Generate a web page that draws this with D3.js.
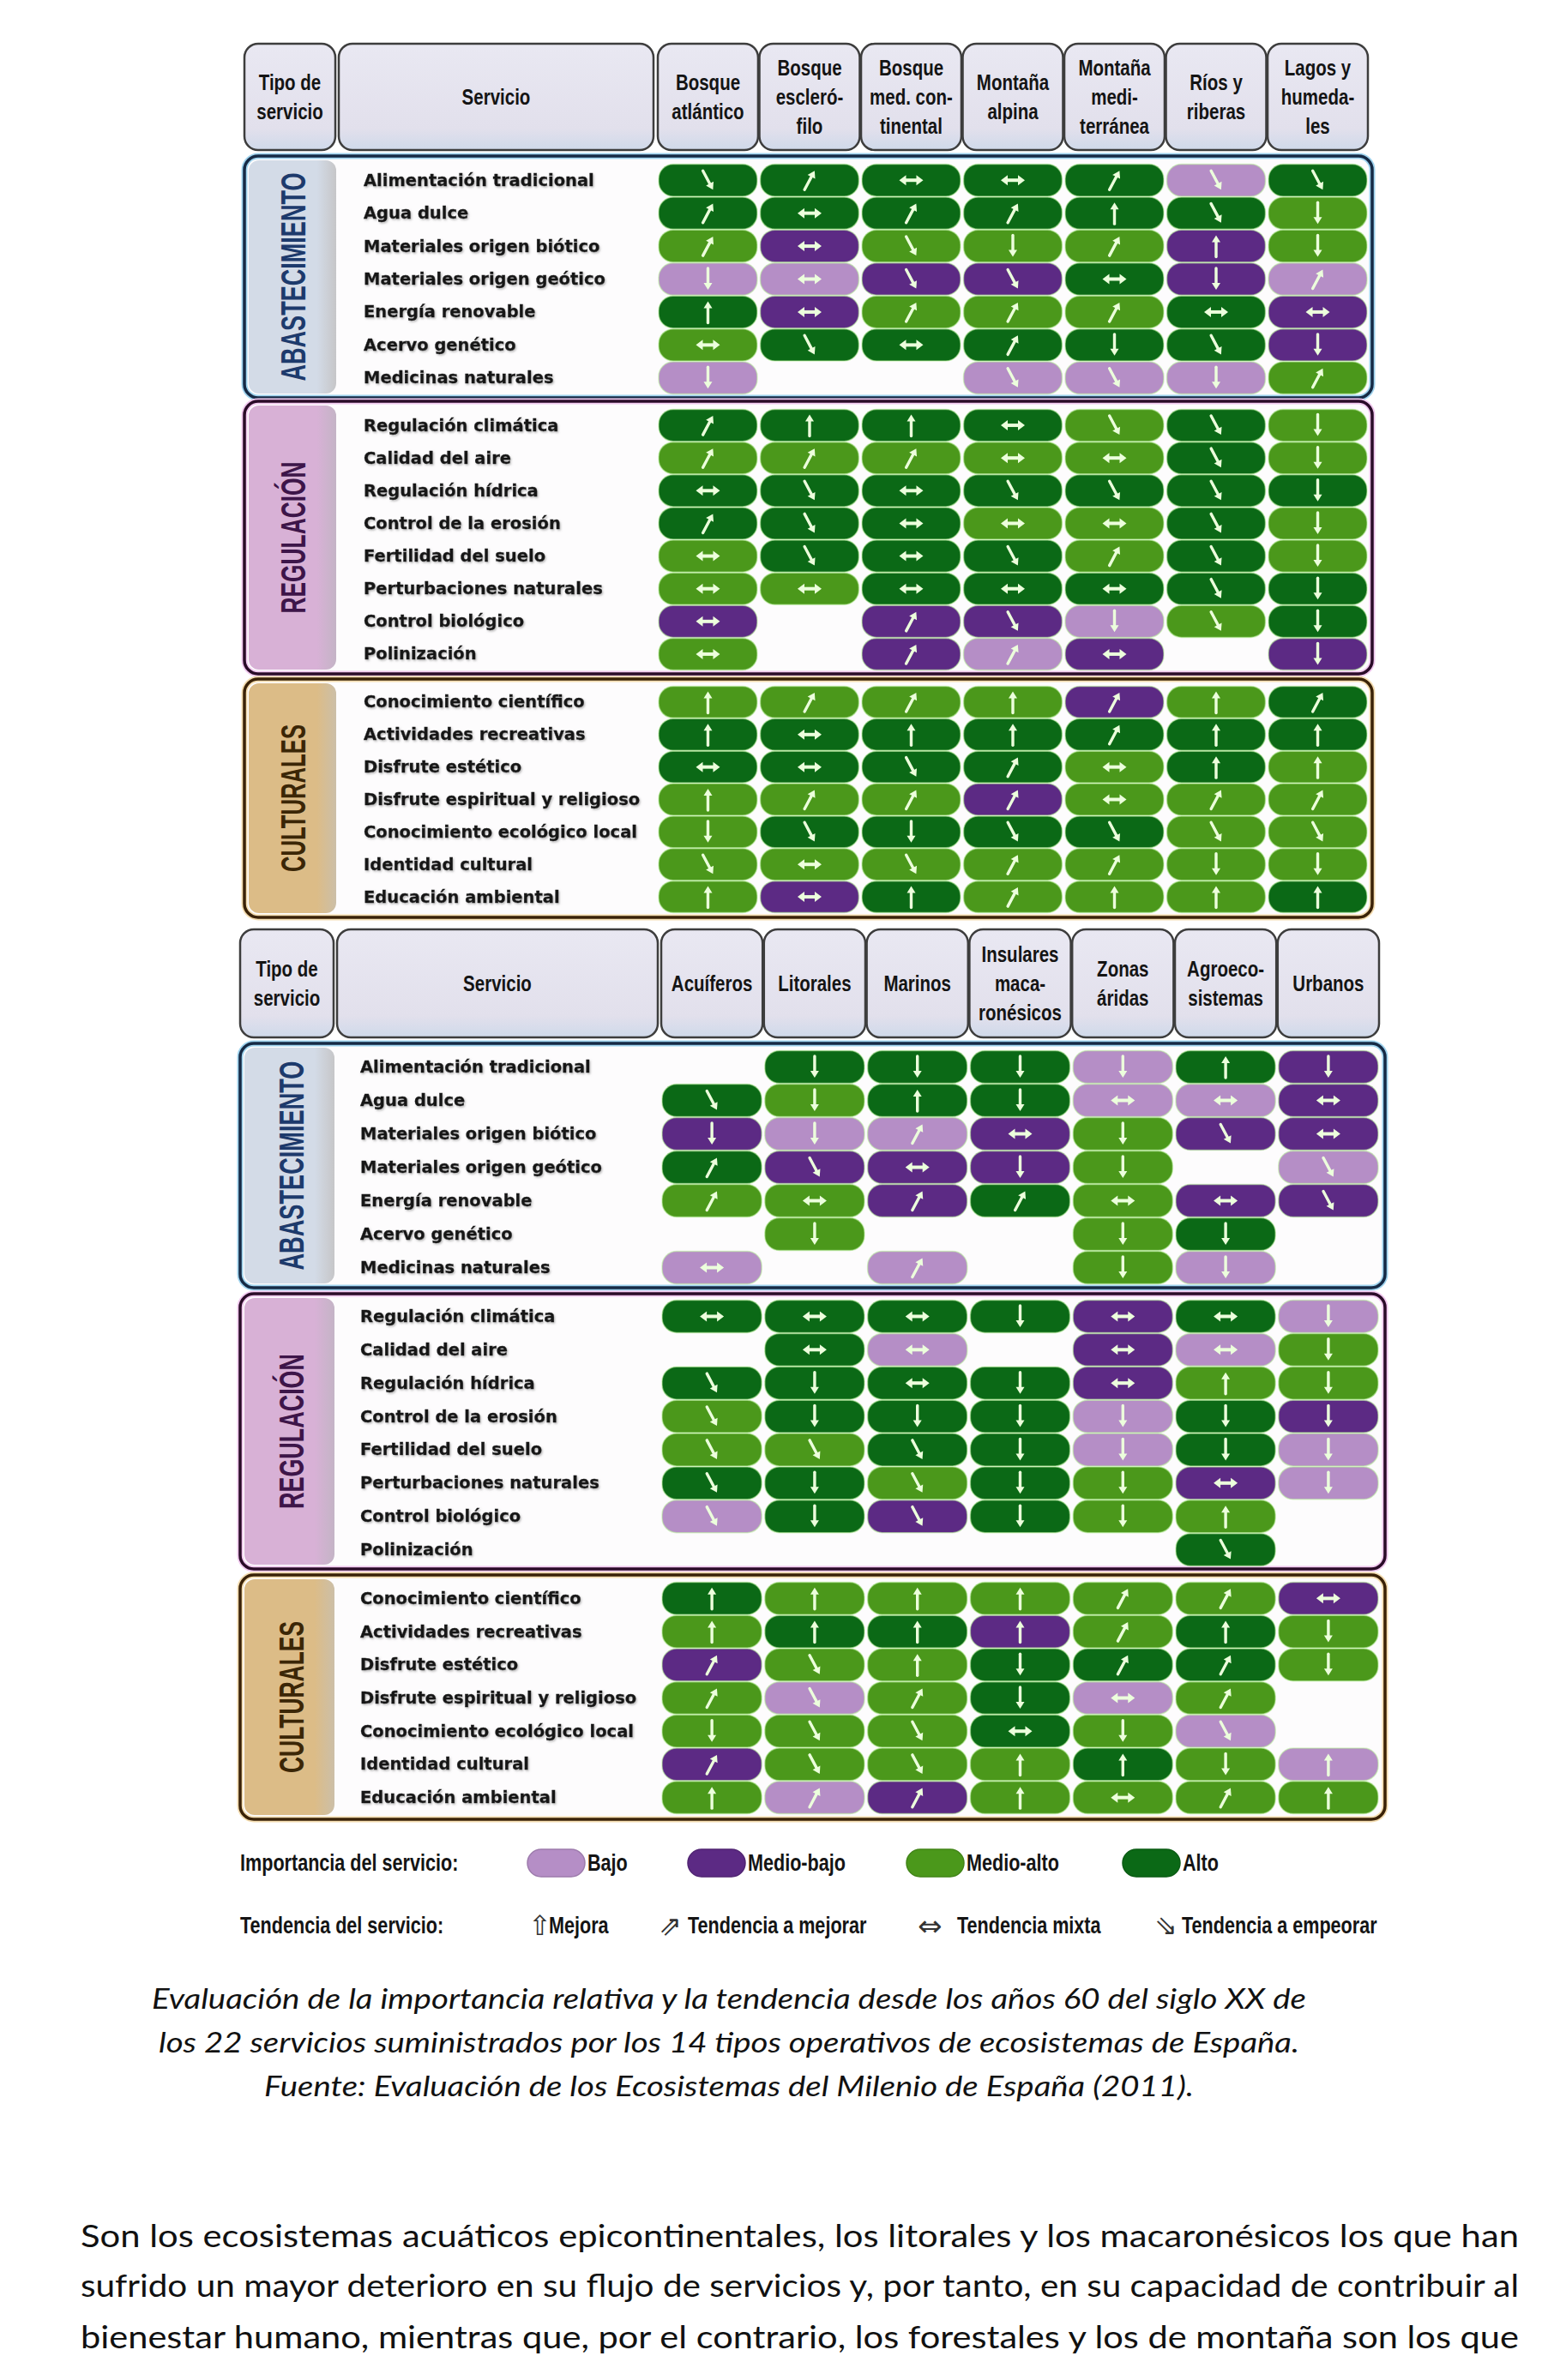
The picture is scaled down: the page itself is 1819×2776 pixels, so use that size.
<!DOCTYPE html>
<html><head><meta charset="utf-8">
<script src="https://cdn.jsdelivr.net/npm/d3@7"></script>
<style>body{margin:0;background:#ffffff;} svg{display:block}</style>
</head><body><svg id="c" width="1819" height="2776"></svg>
<script>
// ---------------- DATA ----------------
const topColumns = ["Bosque atlántico","Bosque esclerófilo","Bosque med. continental","Montaña alpina","Montaña mediterránea","Ríos y riberas","Lagos y humedales"];
const topHeaderLabels = [["Bosque","atlántico"],["Bosque","escleró-","filo"],["Bosque","med. con-","tinental"],["Montaña","alpina"],["Montaña","medi-","terránea"],["Ríos y","riberas"],["Lagos y","humeda-","les"]];
const bottomColumns = ["Acuíferos","Litorales","Marinos","Insulares macaronésicos","Zonas áridas","Agroecosistemas","Urbanos"];
const bottomHeaderLabels = [["Acuíferos"],["Litorales"],["Marinos"],["Insulares","maca-","ronésicos"],["Zonas","áridas"],["Agroeco-","sistemas"],["Urbanos"]];

const categories = ["ABASTECIMIENTO","REGULACIÓN","CULTURALES"];
const abastServices = ["Alimentación tradicional","Agua dulce","Materiales origen biótico","Materiales origen geótico","Energía renovable","Acervo genético","Medicinas naturales"];
const regServices = ["Regulación climática","Calidad del aire","Regulación hídrica","Control de la erosión","Fertilidad del suelo","Perturbaciones naturales","Control biológico","Polinización"];
const cultServices = ["Conocimiento científico","Actividades recreativas","Disfrute estético","Disfrute espiritual y religioso","Conocimiento ecológico local","Identidad cultural","Educación ambiental"];

// importance: B = Bajo, MB = Medio-bajo, MA = Medio-alto, A = Alto, "" = sin dato
// trend: U = Mejora, UR = Tendencia a mejorar, X = Tendencia mixta, DR = Tendencia a empeorar, D = Empeora
const topAbastImp = [
 ["A","A","A","A","A","B","A"],
 ["A","A","A","A","A","A","MA"],
 ["MA","MB","MA","MA","MA","MB","MA"],
 ["B","B","MB","MB","A","MB","B"],
 ["A","MB","MA","MA","MA","A","MB"],
 ["MA","A","A","A","A","A","MB"],
 ["B","","","B","B","B","MA"]];
const topAbastTrend = [
 ["DR","UR","X","X","UR","DR","DR"],
 ["UR","X","UR","UR","U","DR","D"],
 ["UR","X","DR","D","UR","U","D"],
 ["D","X","DR","DR","X","D","UR"],
 ["U","X","UR","UR","UR","X","X"],
 ["X","DR","X","UR","D","DR","D"],
 ["D","","","DR","DR","D","UR"]];
const topRegImp = [
 ["A","A","A","A","MA","A","MA"],
 ["MA","MA","MA","MA","MA","A","MA"],
 ["A","A","A","A","A","A","A"],
 ["A","A","A","MA","MA","A","MA"],
 ["MA","A","A","A","MA","A","MA"],
 ["MA","MA","A","A","A","A","A"],
 ["MB","","MB","MB","B","MA","A"],
 ["MA","","MB","B","MB","","MB"]];
const topRegTrend = [
 ["UR","U","U","X","DR","DR","D"],
 ["UR","UR","UR","X","X","DR","D"],
 ["X","DR","X","DR","DR","DR","D"],
 ["UR","DR","X","X","X","DR","D"],
 ["X","DR","X","DR","UR","DR","D"],
 ["X","X","X","X","X","DR","D"],
 ["X","","UR","DR","D","DR","D"],
 ["X","","UR","UR","X","","D"]];
const topCultImp = [
 ["MA","MA","MA","MA","MB","MA","A"],
 ["A","A","A","A","A","A","A"],
 ["A","A","A","A","MA","A","MA"],
 ["MA","MA","MA","MB","MA","MA","MA"],
 ["MA","A","A","A","A","MA","MA"],
 ["MA","MA","MA","MA","MA","MA","MA"],
 ["MA","MB","A","MA","MA","MA","A"]];
const topCultTrend = [
 ["U","UR","UR","U","UR","U","UR"],
 ["U","X","U","U","UR","U","U"],
 ["X","X","DR","UR","X","U","U"],
 ["U","UR","UR","UR","X","UR","UR"],
 ["D","DR","D","DR","DR","DR","DR"],
 ["DR","X","DR","UR","UR","D","D"],
 ["U","X","U","UR","U","U","U"]];

const botAbastImp = [
 ["","A","A","A","B","A","MB"],
 ["A","MA","A","A","B","B","MB"],
 ["MB","B","B","MB","MA","MB","MB"],
 ["A","MB","MB","MB","MA","","B"],
 ["MA","MA","MB","A","MA","MB","MB"],
 ["","MA","","","MA","A",""],
 ["B","","B","","MA","B",""]];
const botAbastTrend = [
 ["","D","D","D","D","U","D"],
 ["DR","D","U","D","X","X","X"],
 ["D","D","UR","X","D","DR","X"],
 ["UR","DR","X","D","D","","DR"],
 ["UR","X","UR","UR","X","X","DR"],
 ["","D","","","D","D",""],
 ["X","","UR","","D","D",""]];
const botRegImp = [
 ["A","A","A","A","MB","A","B"],
 ["","A","B","","MB","B","MA"],
 ["A","A","A","A","MB","MA","MA"],
 ["MA","A","A","A","B","A","MB"],
 ["MA","MA","A","A","B","A","B"],
 ["A","A","MA","A","MA","MB","B"],
 ["B","A","MB","A","MA","MA",""],
 ["","","","","","A",""]];
const botRegTrend = [
 ["X","X","X","D","X","X","D"],
 ["","X","X","","X","X","D"],
 ["DR","D","X","D","X","U","D"],
 ["DR","D","D","D","D","D","D"],
 ["DR","DR","DR","D","D","D","D"],
 ["DR","D","DR","D","D","X","D"],
 ["DR","D","DR","D","D","U",""],
 ["","","","","","DR",""]];
const botCultImp = [
 ["A","MA","MA","MA","MA","MA","MB"],
 ["MA","A","A","MB","MA","A","MA"],
 ["MB","MA","MA","A","A","A","MA"],
 ["MA","B","MA","A","B","MA",""],
 ["MA","MA","MA","A","MA","B",""],
 ["MB","MA","MA","MA","A","MA","B"],
 ["MA","B","MB","MA","MA","MA","MA"]];
const botCultTrend = [
 ["U","U","U","U","UR","UR","X"],
 ["U","U","U","U","UR","U","D"],
 ["UR","DR","U","D","UR","UR","D"],
 ["UR","DR","UR","D","X","UR",""],
 ["D","DR","DR","X","D","DR",""],
 ["UR","DR","DR","U","U","D","U"],
 ["U","UR","UR","U","X","UR","U"]];

const importanceLevels = ["B","MB","MA","A"];
const importanceLabels = ["Bajo","Medio-bajo","Medio-alto","Alto"];
const trendCodes = ["U","UR","X","DR"];
const trendLabels = ["Mejora","Tendencia a mejorar","Tendencia mixta","Tendencia a empeorar"];

const captionLines = [
 "Evaluación de la importancia relativa y la tendencia desde los años 60 del siglo XX de",
 "los 22 servicios suministrados por los 14 tipos operativos de ecosistemas de España.",
 "Fuente: Evaluación de los Ecosistemas del Milenio de España (2011)."];
const bodyLines = [
 "Son los ecosistemas acuáticos epicontinentales, los litorales y los macaronésicos los que han",
 "sufrido un mayor deterioro en su flujo de servicios y, por tanto, en su capacidad de contribuir al",
 "bienestar humano, mientras que, por el contrario, los forestales y los de montaña son los que"];

// ---------------- SCALES / STYLE ----------------
const svg = d3.select("#c");
const color = d3.scaleOrdinal().domain(importanceLevels).range(["#b58ec6","#5c2a84","#4b981b","#0b6916"]);
const angle = d3.scaleOrdinal().domain(["U","UR","X","DR","D"]).range([-90,-62,0,62,90]);
const COND = "'Liberation Sans Narrow', 'Arial Narrow', sans-serif";
const LABF = "'DejaVu Sans', Verdana, sans-serif";

const defs = svg.append("defs");
const hg = defs.append("linearGradient").attr("id","hdr").attr("x1",0).attr("y1",0).attr("x2",0).attr("y2",1);
hg.append("stop").attr("offset","0%").attr("stop-color","#e9e8f2");
hg.append("stop").attr("offset","80%").attr("stop-color","#e2e0ec");
hg.append("stop").attr("offset","100%").attr("stop-color","#cfd9ea");
const sh = defs.append("filter").attr("id","shadow").attr("x","-5%").attr("y","-30%").attr("width","115%").attr("height","170%");
sh.append("feDropShadow").attr("dx",1.2).attr("dy",1.5).attr("stdDeviation",1).attr("flood-color","#888").attr("flood-opacity",0.6);
const tabStyles = [
  {fill:"#d3dbe7", edge:"#c6c6c8", stroke:"#162a45", glow:"#9fd3ee", text:"#1d3a6c"},
  {fill:"#d8b1d6", edge:"#c4b4c6", stroke:"#2a0c28", glow:"#f0c8ee", text:"#3d1549"},
  {fill:"#dcbc87", edge:"#ccbfa8", stroke:"#3a2208", glow:"#f3dcb0", text:"#3b2606"}];
tabStyles.forEach((s,i)=>{
  const g = defs.append("linearGradient").attr("id","tab"+i).attr("x1",0).attr("x2",1).attr("y1",0).attr("y2",0);
  g.append("stop").attr("offset","0%").attr("stop-color",s.fill);
  g.append("stop").attr("offset","78%").attr("stop-color",s.fill);
  g.append("stop").attr("offset","100%").attr("stop-color",s.edge);
});

// condensed-looking bold text (horizontal squeeze)
function condText(g, x, y, t, size, anchor, sx) {
  return g.append("text").attr("transform",`translate(${x},${y}) scale(${sx||0.84},1)`)
    .attr("text-anchor",anchor||"start").attr("dominant-baseline","central")
    .attr("font-family",COND).attr("font-weight","bold").attr("font-size",size).attr("fill","#141414").text(t);
}

function drawArrow(g, code) {
  const L = code === "X" ? 28 : 25;
  const a = g.append("g").attr("transform", `rotate(${angle(code)})`);
  const col = "#ecffdc";
  if (code === "X") {
    a.append("path").attr("d", `M${-L/2+6},0 L${L/2-6},0`).attr("stroke",col).attr("stroke-width",4);
    a.append("path").attr("d", `M${L/2},0 L${L/2-8},-6 L${L/2-8},6 Z M${-L/2},0 L${-L/2+8},-6 L${-L/2+8},6 Z`).attr("fill",col);
  } else {
    a.append("path").attr("d", `M${-L/2},0 L${L/2-6},0`).attr("stroke",col).attr("stroke-width",3.4).attr("stroke-linecap","round");
    a.append("path").attr("d", `M${L/2},0 L${L/2-8},-5 L${L/2-8},5 Z`).attr("fill",col);
  }
}

function drawTable(cfg) {
  const x = d3.scaleBand().domain(d3.range(cfg.headers.length)).range([cfg.colX0, cfg.colX1]).paddingInner(0.03);
  // header
  const hdr = svg.append("g");
  const hb = [{x0:cfg.boxX0, x1:cfg.tipoX1, lines:["Tipo de","servicio"]},
              {x0:cfg.tipoX1+4, x1:cfg.servX1, lines:["Servicio"]}]
     .concat(cfg.headers.map((h,i)=>({x0:x(i)-1, x1:x(i)+x.bandwidth()+1, lines:h})));
  hb.forEach(b=>{
    hdr.append("rect").attr("x",b.x0).attr("y",cfg.hY0).attr("width",b.x1-b.x0).attr("height",cfg.hY1-cfg.hY0)
      .attr("rx",16).attr("fill","url(#hdr)").attr("stroke","#3d3d3d").attr("stroke-width",2.5);
    const cy = (cfg.hY0+cfg.hY1)/2, lh = 34;
    b.lines.forEach((t,j)=>{
      condText(hdr, (b.x0+b.x1)/2, cy+(j-(b.lines.length-1)/2)*lh, t, 25, "middle", 0.82);
    });
  });
  // blocks
  cfg.blocks.forEach((b,bi)=>{
    const st = tabStyles[bi];
    const g = svg.append("g");
    g.append("rect").attr("x",cfg.boxX0).attr("y",b.y0).attr("width",cfg.boxX1-cfg.boxX0).attr("height",b.y1-b.y0)
      .attr("rx",16).attr("fill","#fdfcfd").attr("stroke",st.glow).attr("stroke-width",7);
    g.append("rect").attr("x",cfg.boxX0+5).attr("y",b.y0+5).attr("width",cfg.tipoX1-cfg.boxX0-4).attr("height",b.y1-b.y0-10)
      .attr("rx",12).attr("fill","url(#tab"+bi+")");
    g.append("rect").attr("x",cfg.boxX0).attr("y",b.y0).attr("width",cfg.boxX1-cfg.boxX0).attr("height",b.y1-b.y0)
      .attr("rx",16).attr("fill","none").attr("stroke",st.stroke).attr("stroke-width",3.5);
    const cx = cfg.tabCx, cy = (b.y0+b.y1)/2;
    g.append("text").attr("transform",`translate(${cx},${cy}) rotate(-90)`)
      .attr("text-anchor","middle").attr("dominant-baseline","central")
      .attr("font-family",COND).attr("font-weight","bold").attr("font-size",40)
      .attr("textLength", b.labelLen).attr("lengthAdjust","spacingAndGlyphs")
      .attr("fill",st.text).text(categories[bi]);
    const y = d3.scaleBand().domain(d3.range(b.services.length)).range([b.y0+b.padT, b.y1-b.padB]);
    g.selectAll("text.svc").data(b.services).enter().append("text").attr("class","svc")
      .attr("x",cfg.labelX).attr("y",(d,i)=>y(i)+y.bandwidth()/2)
      .attr("dominant-baseline","central").attr("font-family",LABF).attr("font-weight","bold")
      .attr("font-size",19.5).attr("fill","#161616").attr("stroke","#161616").attr("stroke-width",0.35)
      .attr("filter","url(#shadow)").text(d=>d);
    const cells = [];
    b.imp.forEach((row,r)=>row.forEach((v,c)=>{ if (v) cells.push({r,c,imp:v,trend:b.trend[r][c]}); }));
    const cg = g.selectAll("g.cell").data(cells).enter().append("g").attr("class","cell")
      .attr("transform",d=>`translate(${x(d.c)+x.bandwidth()/2},${y(d.r)+y.bandwidth()/2})`);
    cg.append("rect").attr("x",-x.bandwidth()/2).attr("y",-(y.bandwidth()-1)/2)
      .attr("width",x.bandwidth()).attr("height",y.bandwidth()-1).attr("rx",17)
      .attr("fill",d=>color(d.imp)).attr("stroke","#b9ee9c").attr("stroke-opacity",0.55).attr("stroke-width",1.5);
    cg.each(function(d){ drawArrow(d3.select(this), d.trend); });
  });
}

drawTable({headers: topHeaderLabels, hY0:51, hY1:175, boxX0:285, boxX1:1600, tipoX1:391, servX1:762,
  colX0:768, colX1:1594, tabCx:342, labelX:424,
  blocks:[
    {services:abastServices, imp:topAbastImp, trend:topAbastTrend, y0:182, y1:464, padT:9, padB:4, labelLen:243},
    {services:regServices, imp:topRegImp, trend:topRegTrend, y0:468, y1:786, padT:9, padB:4, labelLen:177},
    {services:cultServices, imp:topCultImp, trend:topCultTrend, y0:792, y1:1070, padT:8, padB:5, labelLen:172}]});

drawTable({headers: bottomHeaderLabels, hY0:1084, hY1:1210, boxX0:280, boxX1:1615, tipoX1:389, servX1:767,
  colX0:772, colX1:1607, tabCx:340, labelX:420,
  blocks:[
    {services:abastServices, imp:botAbastImp, trend:botAbastTrend, y0:1217, y1:1502, padT:8, padB:4, labelLen:244},
    {services:regServices, imp:botRegImp, trend:botRegTrend, y0:1509, y1:1830, padT:7, padB:3, labelLen:181},
    {services:cultServices, imp:botCultImp, trend:botCultTrend, y0:1837, y1:2122, padT:8, padB:6, labelLen:177}]});

// ---------------- LEGEND ----------------
const lg = svg.append("g");
condText(lg, 280, 2173, "Importancia del servicio:", 27, "start", 0.8);
const pillX = [615, 802, 1057, 1309];
importanceLevels.forEach((k,i)=>{
  lg.append("rect").attr("x",pillX[i]).attr("y",2173-16).attr("width",67).attr("height",32).attr("rx",16)
    .attr("fill",color(k)).attr("stroke",d3.color(color(k)).darker(0.4)).attr("stroke-width",1.5);
  condText(lg, pillX[i]+70, 2173, importanceLabels[i], 27, "start", 0.8);
});
condText(lg, 280, 2246, "Tendencia del servicio:", 27, "start", 0.8);
const glyphs = ["⇧","⇗","⇔","⇘"];
const glyphX = [616, 768, 1070, 1346];
const tlabX = [640, 802, 1116, 1378];
trendCodes.forEach((k,i)=>{
  lg.append("text").attr("x",glyphX[i]).attr("y",2246).attr("dominant-baseline","central")
    .attr("font-family","'DejaVu Sans'").attr("font-size",i===2?34:32).attr("fill","#333").text(glyphs[i]);
  condText(lg, tlabX[i], 2246, trendLabels[i], 27, "start", 0.8);
});

// ---------------- CAPTION & BODY ----------------
const capY = [2343, 2394, 2445];
const capLen = [1346, 1330, 1084];
captionLines.forEach((t,i)=>{
  svg.append("text").attr("x",850).attr("y",capY[i]).attr("text-anchor","middle")
    .attr("font-family","Lato, 'Open Sans', sans-serif").attr("font-style","italic").attr("font-size",32)
    .attr("textLength",capLen[i]).attr("lengthAdjust","spacingAndGlyphs").attr("fill","#111").text(t);
});
const bodyY = [2621, 2679, 2739];
bodyLines.forEach((t,i)=>{
  svg.append("text").attr("x",94).attr("y",bodyY[i])
    .attr("font-family","Lato, 'Open Sans', sans-serif").attr("font-size",37)
    .attr("textLength",1677).attr("lengthAdjust","spacingAndGlyphs").attr("fill","#111").text(t);
});
</script></body></html>
